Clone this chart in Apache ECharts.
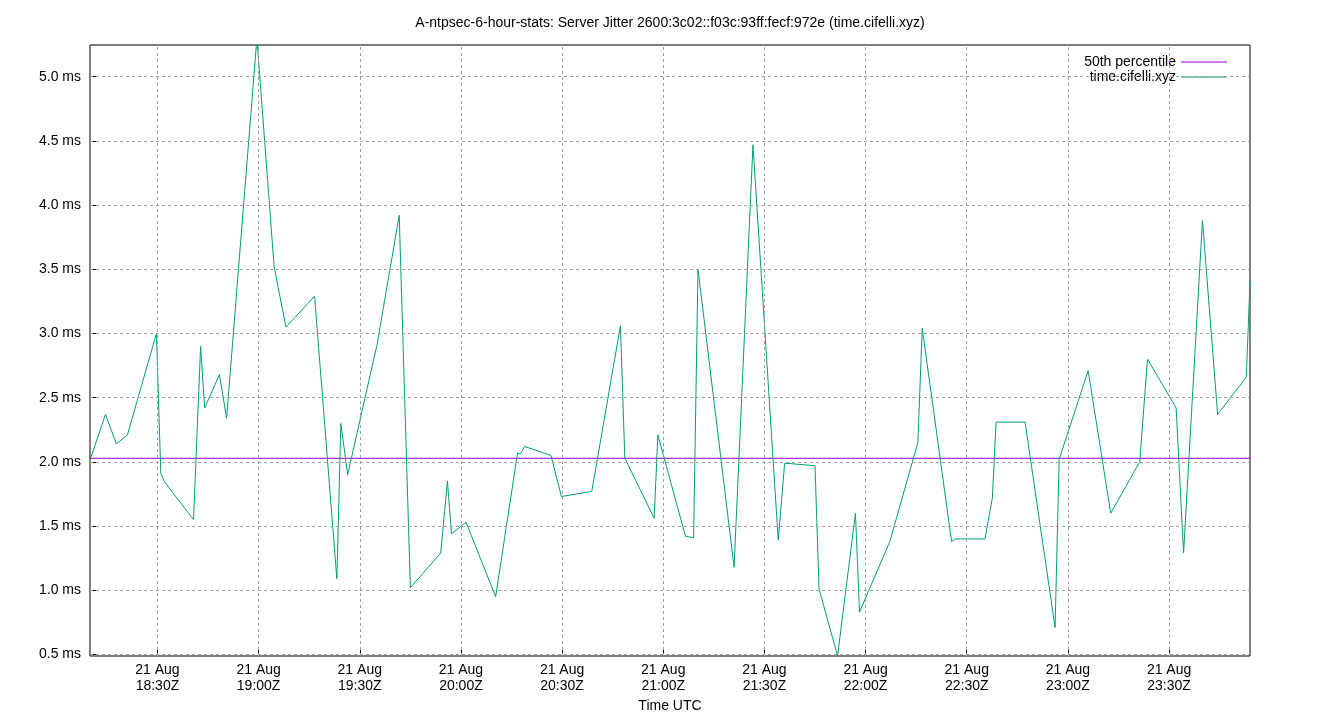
<!DOCTYPE html>
<html><head><meta charset="utf-8">
<script src="https://cdn.jsdelivr.net/npm/echarts@6/dist/echarts.min.js"></script>
<style>body{margin:0}#c{width:1340px;height:720px}</style></head>
<body><div id="c"></div>
<script>
// minutes since 18:00Z on 21 Aug
const times = [10.2,14.6,17.8,21.1,29.7,31.0,32.2,40.7,42.8,44.0,48.4,50.5,59.5,64.6,68.1,76.6,83.2,84.4,86.4,95.1,
 101.7,105.0,114.0,116.0,117.2,121.5,130.3,136.8,137.6,138.9,146.7,149.8,158.8,167.3,168.6,177.3,178.4,
 186.6,189.0,190.3,201.0,206.6,214.1,216.0,225.0,226.2,231.7,237.0,238.2,247.2,255.5,256.8,265.5,266.7,
 275.4,277.6,278.7,287.3,296.2,297.4,306.0,312.7,321.3,323.6,332.1,334.3,339.9,344.4,352.9,354.0];
const jitter = [2.03,2.37,2.14,2.21,3.00,1.91,1.84,1.55,2.90,2.42,2.68,2.34,5.30,3.52,3.05,3.29,1.09,2.30,1.90,2.91,
 3.92,1.02,1.29,1.85,1.44,1.53,0.95,2.07,2.06,2.12,2.05,1.73,1.77,3.06,2.03,1.56,2.21,
 1.42,1.41,3.50,1.18,4.47,1.39,1.99,1.97,1.01,0.49,1.60,0.83,1.38,2.15,3.04,1.38,1.40,
 1.40,1.72,2.31,2.31,0.71,2.02,2.71,1.60,2.00,2.80,2.42,1.29,3.88,2.37,2.66,3.40];
const median = 2.028;
const xTicks = [30,60,90,120,150,180,210,240,270,300,330];
const yTicks = [0.5,1.0,1.5,2.0,2.5,3.0,3.5,4.0,4.5,5.0];
const xMin = 10, xMax = 354, yMin = 0.488, yMax = 5.247;

function fmtX(v){const m=Math.round(v)+18*60;const h=Math.floor(m/60),mm=m%60;return '21 Aug\n'+h+':'+String(mm).padStart(2,'0')+'Z';}
const grey={color:'#a0a0a0',type:[3,3],width:1};
const chart = echarts.init(document.getElementById('c'));
chart.setOption({
  animation:false,
  title:{text:'A-ntpsec-6-hour-stats: Server Jitter 2600:3c02::f03c:93ff:fecf:972e (time.cifelli.xyz)',left:'center',top:11,
    textStyle:{fontFamily:'Liberation Sans',fontSize:14,fontWeight:'normal',color:'#000'}},
  legend:{right:108,top:50,orient:'vertical',align:'right',itemGap:1,itemWidth:46,itemHeight:1,icon:'rect',
    textStyle:{fontFamily:'Liberation Sans',fontSize:14,color:'#000'},
    data:['50th percentile','time.cifelli.xyz']},
  grid:{left:90,right:90,top:45,bottom:64,show:true,borderColor:'#000',borderWidth:1,backgroundColor:'transparent'},
  xAxis:{type:'value',min:xMin,max:xMax,name:'Time UTC',nameLocation:'middle',nameGap:43,
    nameTextStyle:{fontFamily:'Liberation Sans',fontSize:14,color:'#000'},
    axisLine:{show:false},splitLine:{show:false},
    axisTick:{show:true,inside:true,length:6,lineStyle:{color:'#000'},customValues:xTicks},
    axisLabel:{customValues:xTicks,formatter:fmtX,fontFamily:'Liberation Sans',fontSize:14,color:'#000',lineHeight:16,margin:6}},
  yAxis:{type:'value',min:yMin,max:yMax,
    axisLine:{show:false},splitLine:{show:false},
    axisTick:{show:true,inside:true,length:6,lineStyle:{color:'#000'},customValues:yTicks},
    axisLabel:{customValues:yTicks,formatter:v=>v.toFixed(1)+' ms',fontFamily:'Liberation Sans',fontSize:14,color:'#000',margin:9}},
  series:[
    {name:'grid',type:'line',data:[],silent:true,
      markLine:{silent:true,symbol:'none',label:{show:false},lineStyle:grey,animation:false,
        data:xTicks.map(v=>({xAxis:v})).concat(yTicks.map(v=>({yAxis:v})))}},
    {name:'50th percentile',type:'line',data:[[xMin,median],[xMax,median]],symbol:'none',
      lineStyle:{color:'#9400d3',width:1},itemStyle:{color:'#9400d3'}},
    {name:'time.cifelli.xyz',type:'line',data:times.map((t,i)=>[t,jitter[i]]),symbol:'none',clip:true,
      lineStyle:{color:'#009e73',width:1},itemStyle:{color:'#009e73'}}
  ]
});
</script></body></html>
